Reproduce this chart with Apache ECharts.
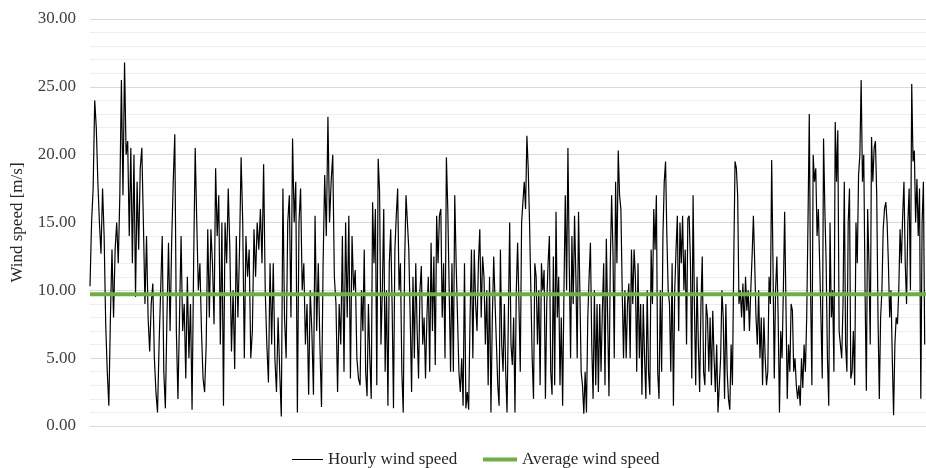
<!DOCTYPE html>
<html lang="en">

<head>
  <meta charset="UTF-8">
  <title>Hourly wind speed</title>
  <style>
    html, body { margin: 0; padding: 0; background: #fff; }
    #chart { width: 926px; height: 468px; }
  </style>
</head>

<body>
  <div id="chart"></div>

  <script src="https://cdn.jsdelivr.net/npm/echarts@6/dist/echarts.min.js"></script>
  <script>
    // hours of the year, split into six blocks of readings
    const blockEdges = [0, 1415, 2830, 4245, 5660, 7075, 8760];

    const block1 = [10.3, 15, 17.5, 24, 22, 18, 15, 12.7, 17.5, 14, 7.5, 4, 1.5, 8, 13, 8, 13, 15, 12, 17, 25.5, 17, 26.8, 20, 21, 14, 20.5, 12, 20, 9.5, 18, 13, 19, 20.5, 15, 9, 14, 8, 5.5, 9, 10.5, 5, 2.5, 1, 6, 10, 14, 4, 1.3, 8, 13.5, 7, 13.5, 18, 21.5, 7, 2, 8, 14, 7, 9, 3.5, 11, 5, 9, 1.2, 12, 20.5, 15, 10, 12, 7, 3.5, 2.5, 6, 14.5, 8, 14.5, 12, 7.5, 19, 14, 17, 6, 15, 1.5];
    const block2 = [15, 12, 17.5, 13, 5.5, 10, 4.2, 14, 8, 13, 19.8, 15, 5, 14, 11, 13, 5, 7, 14.5, 11, 15, 13, 16, 12, 19.3, 10, 6, 3.2, 12, 6, 12, 5, 2.5, 8, 4, 0.7, 17.5, 8, 5, 15, 17, 8, 21.2, 15, 18, 1, 15, 17.5, 10, 12, 6, 9, 2.3, 10, 7, 2.3, 15.5, 7, 12, 6, 1.4, 12, 18.5, 14, 22.8, 15, 18, 20, 11, 9, 2.5, 9, 6, 14, 4, 15, 8, 15.5, 3.5, 14, 10, 11.5, 5, 3.5];
    const block3 = [3, 10, 7, 13, 4, 2.2, 9, 5, 2, 16.5, 12, 16, 3, 19.7, 17.3, 6, 10, 16, 4, 10, 1.5, 12, 14.5, 9, 1.3, 13, 15.5, 17.5, 10, 12, 4, 1, 12, 17, 15, 13, 8, 2.5, 11, 5, 12, 7, 3.5, 10, 11.8, 6, 8, 3.5, 8, 11, 4, 13.5, 7, 12.5, 4.5, 15.5, 12, 15.5, 16, 8, 12, 5, 19.8, 16, 10, 4, 12, 4, 17, 12, 8, 4, 2.5, 5, 1.5, 12, 1.3, 2.5, 1.2, 8, 13, 5, 13, 9, 7, 12, 14.5, 8, 12.5, 11, 6, 10, 3, 11, 1, 8, 12.5];
    const block4 = [9, 6, 3, 1.5, 13, 6, 4, 9, 4, 1, 8, 15, 6, 4.5, 8, 1, 10, 13.5, 9, 4, 15, 16.5, 18, 16, 21.4, 19, 15, 10, 5, 2, 12, 11, 6, 10, 3, 12, 10, 11.5, 2, 9, 12, 14, 4, 2.3, 12.5, 3, 15.8, 8, 11, 3, 8, 1.5, 10, 17, 10, 20.5, 12, 5, 14, 9, 15.5, 11, 5, 15.8, 10, 4, 3, 0.9, 4, 1, 8, 11, 13.5, 6, 2, 10, 3, 9, 2.5, 9, 4, 8.5, 12, 3, 13.8, 8, 2.2, 12, 17, 13, 5, 18, 12, 20.3, 17, 16, 10, 5, 10, 5, 9, 10.5];
    const block5 = [5, 13, 9, 13, 11, 4, 12, 5, 9, 2.3, 9, 5, 2, 10, 4, 2.3, 13, 9, 16, 13, 17, 4, 2, 10, 4, 14, 18, 19.5, 14, 10, 9, 4, 12, 1.5, 10, 13, 15.5, 7, 15, 12, 15.5, 10, 13, 6, 15.3, 15.5, 12, 3.5, 17, 9, 3, 11, 6, 2.5, 9, 12.5, 4, 3, 9, 8, 4, 8, 3, 8.5, 5, 2.5, 6, 1, 0.9, 5, 10, 8, 2, 9, 4, 2, 1.2, 6, 3, 12, 19.5, 19, 17, 9, 10, 8, 10.5, 7, 11, 8.5, 10, 7, 10, 12.5, 15.5, 12, 8, 6, 10, 5, 8, 3, 8];
    const block6 = [5, 3, 4, 11, 9, 19.6, 12, 3.5, 10, 12.5, 8, 1, 7, 5, 10, 15.8, 9, 2, 6, 4, 9, 8.5, 4, 5, 3, 2, 3, 1.5, 5, 2.8, 6, 4, 8, 15, 23, 10, 3, 20, 18, 19, 14, 16, 12, 8, 3.5, 21.2, 16, 12, 5, 1.5, 15, 8, 10, 4, 22.4, 18, 21.8, 7, 6, 5, 9, 18, 6, 4, 15, 17.5, 3.5, 4, 7, 3, 15, 12, 18.5, 20, 25.5, 18, 20, 10, 2.6, 16, 12, 6, 21.3, 18, 20.5, 21, 17, 8, 2, 8, 10, 14.5, 16, 16.5, 15, 12, 8, 10, 5, 0.8, 6, 8, 7.5, 10, 14.5, 12, 15.5, 18, 12, 9, 15, 17.5, 10, 25.2, 19.5, 20.3, 15, 18.2, 14, 17.5, 2, 15, 18, 6];

    const averageSpeed = 9.72;
    const yTicks = [0, 5, 10, 15, 20, 25, 30];

    const blocks = [block1, block2, block3, block4, block5, block6];
    const hourly = [];
    blocks.forEach((vals, k) => {
      const start = blockEdges[k];
      const len = blockEdges[k + 1] - start;
      vals.forEach((v, i) => {
        hourly.push([start + i * len / vals.length, v]);
      });
    });

    const serif = 'Liberation Serif';
    const legendText = { fontFamily: serif, fontSize: 17, color: '#262626' };

    const option = {
      animation: false,
      grid: { left: 90, right: 0, top: 19, bottom: 42 },
      // two legends so each icon gets its own line thickness
      legend: [{
        left: 292,
        top: 451,
        padding: 0,
        icon: 'rect',
        itemWidth: 31,
        itemHeight: 1,
        textStyle: legendText,
        data: ['Hourly wind speed']
      }, {
        left: 483,
        top: 451,
        padding: 0,
        icon: 'rect',
        itemWidth: 34,
        itemHeight: 4,
        textStyle: legendText,
        data: ['Average wind speed']
      }],
      xAxis: {
        type: 'value',
        min: blockEdges[0],
        max: blockEdges[blockEdges.length - 1],
        axisLabel: { show: false },
        axisTick: { show: false },
        splitLine: { show: false },
        axisLine: { show: true, lineStyle: { color: '#d9d9d9' } }
      },
      yAxis: {
        type: 'value',
        min: yTicks[0],
        max: yTicks[yTicks.length - 1],
        interval: 5,
        name: 'Wind speed [m/s]',
        nameLocation: 'middle',
        nameGap: 64,
        nameTextStyle: { fontFamily: serif, fontSize: 17, color: '#262626' },
        axisLine: { show: false },
        axisTick: { show: false },
        axisLabel: {
          fontFamily: serif, fontSize: 17, color: '#404040', margin: 14,
          formatter: (v) => v.toFixed(2)
        },
        splitLine: { lineStyle: { color: '#d9d9d9' } },
        minorTick: { show: false, splitNumber: 5 },
        minorSplitLine: { show: true, lineStyle: { color: '#eeeeee' } }
      },
      series: [{
        name: 'Hourly wind speed',
        type: 'line',
        symbol: 'none',
        data: hourly,
        lineStyle: { color: '#000', width: 1.2 },
        itemStyle: { color: '#000' }
      }, {
        name: 'Average wind speed',
        type: 'line',
        symbol: 'none',
        data: [[blockEdges[0], averageSpeed], [blockEdges[blockEdges.length - 1], averageSpeed]],
        lineStyle: { color: '#70ad47', width: 4 },
        itemStyle: { color: '#70ad47' }
      }]
    };

    const chart = echarts.init(document.getElementById('chart'));
    chart.setOption(option);
  </script>
</body>

</html>
